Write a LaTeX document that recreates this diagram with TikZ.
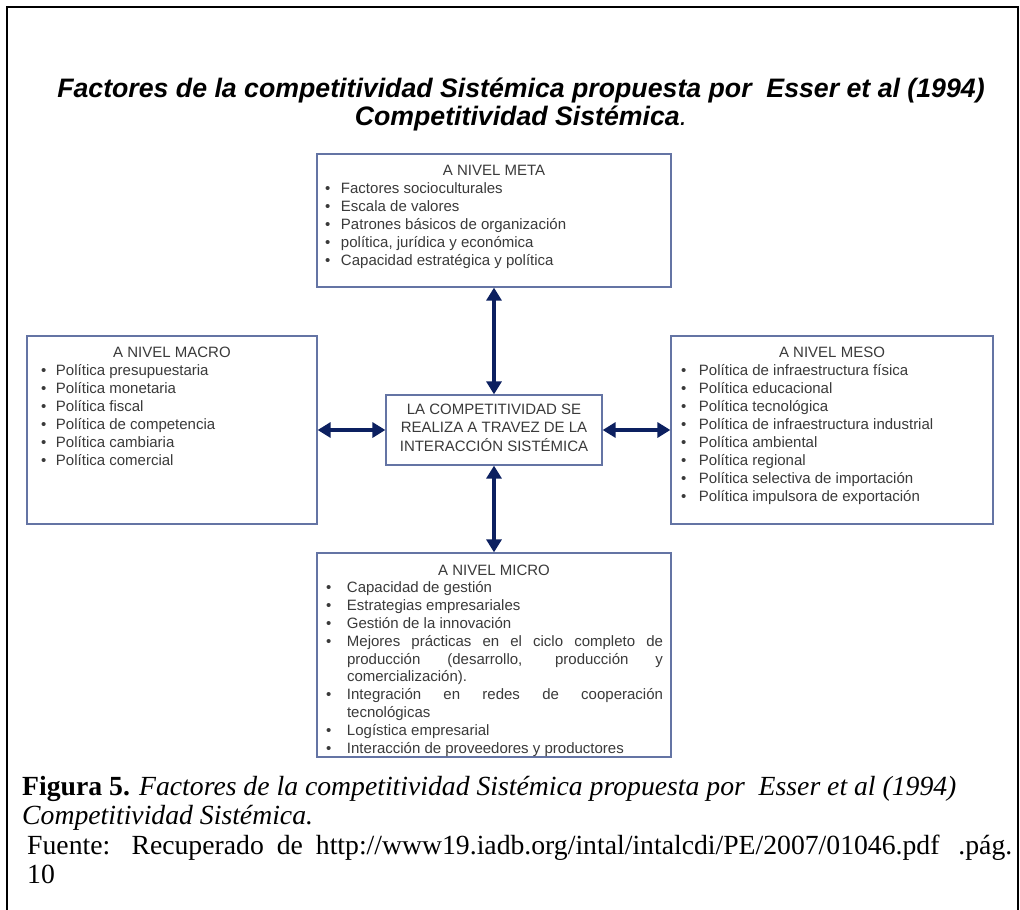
\documentclass[tikz,border=0pt]{standalone}
\usepackage{fontspec}
\setmainfont{Liberation Serif}
\newfontfamily\arialf{Liberation Sans}
\usetikzlibrary{arrows.meta}

\definecolor{boxedge}{RGB}{100,116,164}
\definecolor{boxtext}{RGB}{58,58,58}
\definecolor{arrownavy}{RGB}{12,32,96}

% first baseline at #1 below the top, title centred
\newcommand\boxhead[2]{\noindent\makebox[\linewidth][c]{\rule{0pt}{#1}#2}\par}
% bullet at #1 from the left edge, text from #2
\newcommand\itm[3]{\hangindent=#2\hangafter=1\noindent\makebox[#2][l]{\hspace*{#1}\textbullet}#3\par}

\tikzset{
  levelbox/.style={draw=boxedge, line width=1.3pt, inner sep=0pt, fill=white},
  boxfont/.style={font=\arialf\fontsize{15}{18}\selectfont, text=boxtext},
  biarrow/.style={{Triangle[length=13pt,width=15pt]}-{Triangle[length=13pt,width=15pt]},
                  line width=4pt, draw=arrownavy},
  headline/.style={anchor=base, font=\arialf\bfseries\itshape\fontsize{26.7}{30}\selectfont},
  captext/.style={anchor=base west, font=\fontsize{27.7}{32}\selectfont, inner sep=0pt}
}

\begin{document}
\begin{tikzpicture}[x=1pt,y=-1pt]
\useasboundingbox (0,0) rectangle (1020,910);

% page frame
\draw[line width=2.2pt] (7,910) -- (7,7) -- (1018,7) -- (1018,910);

% heading
\node[headline] (head1) at (521,97.5) {Factores de la competitividad Sistémica propuesta por\ \ Esser et al (1994)};
\node[headline] (head2) at (521,125.5) {Competitividad Sistémica{\mdseries .}};

% the four levels and the centre
\node[levelbox, boxfont] (meta) at (494,220.5) {\parbox[c][133pt][t]{354pt}{%
  \boxhead{21pt}{A NIVEL META}
  \itm{8pt}{24pt}{Factores socioculturales}
  \itm{8pt}{24pt}{Escala de valores}
  \itm{8pt}{24pt}{Patrones básicos de organización}
  \itm{8pt}{24pt}{política, jurídica y económica}
  \itm{8pt}{24pt}{Capacidad estratégica y política}}};

\node[levelbox, boxfont] (macro) at (172,430) {\parbox[c][188pt][t]{290pt}{%
  \boxhead{21pt}{A NIVEL MACRO}
  \itm{14pt}{29pt}{Política presupuestaria}
  \itm{14pt}{29pt}{Política monetaria}
  \itm{14pt}{29pt}{Política fiscal}
  \itm{14pt}{29pt}{Política de competencia}
  \itm{14pt}{29pt}{Política cambiaria}
  \itm{14pt}{29pt}{Política comercial}}};

\node[levelbox, boxfont] (meso) at (832,430) {\parbox[c][188pt][t]{322pt}{%
  \boxhead{21pt}{A NIVEL MESO}
  \itm{10pt}{28pt}{Política de infraestructura física}
  \itm{10pt}{28pt}{Política educacional}
  \itm{10pt}{28pt}{Política tecnológica}
  \itm{10pt}{28pt}{Política de infraestructura industrial}
  \itm{10pt}{28pt}{Política ambiental}
  \itm{10pt}{28pt}{Política regional}
  \itm{10pt}{28pt}{Política selectiva de importación}
  \itm{10pt}{28pt}{Política impulsora de exportación}}};

\node[levelbox, boxfont] (core) at (494,430) {\parbox[c][70pt][t]{216pt}{%
  \centering\baselineskip=18.5pt
  \rule{0pt}{19pt}LA COMPETITIVIDAD SE\\
  REALIZA A TRAVEZ DE LA\\
  INTERACCIÓN SISTÉMICA\par}};

\node[levelbox, boxfont] (micro) at (494,655) {\parbox[c][204pt][t]{354pt}{%
  \baselineskip=17.8pt\rightskip=8pt
  \boxhead{22pt}{A NIVEL MICRO}
  \itm{9pt}{30pt}{Capacidad de gestión}
  \itm{9pt}{30pt}{Estrategias empresariales}
  \itm{9pt}{30pt}{Gestión de la innovación}
  \itm{9pt}{30pt}{Mejores prácticas en el ciclo completo de\linebreak producción (desarrollo, producción y\linebreak comercialización).}
  \itm{9pt}{30pt}{Integración en redes de cooperación\linebreak tecnológicas}
  \itm{9pt}{30pt}{Logística empresarial}
  \itm{9pt}{30pt}{Interacción de proveedores y productores}}};

% interaction arrows
\draw[biarrow] (meta) -- (core);
\draw[biarrow] (core) -- (micro);
\draw[biarrow] (macro) -- (core);
\draw[biarrow] (core) -- (meso);

% caption
\node[captext] (cap1) at (22,795) {\textbf{Figura 5.} \textit{Factores de la competitividad Sistémica propuesta por\ \ Esser et al (1994)}};
\node[captext] (cap2) at (22,824) {\textit{Competitividad Sistémica.}};
\node[captext] (cap3) at (27,854) {\makebox[985pt][s]{Fuente: Recuperado de http://www19.iadb.org/intal/intalcdi/PE/2007/01046.pdf\hspace{12pt plus 4pt}.pág.}};
\node[captext] (cap4) at (27,883) {10};
\end{tikzpicture}
\end{document}
